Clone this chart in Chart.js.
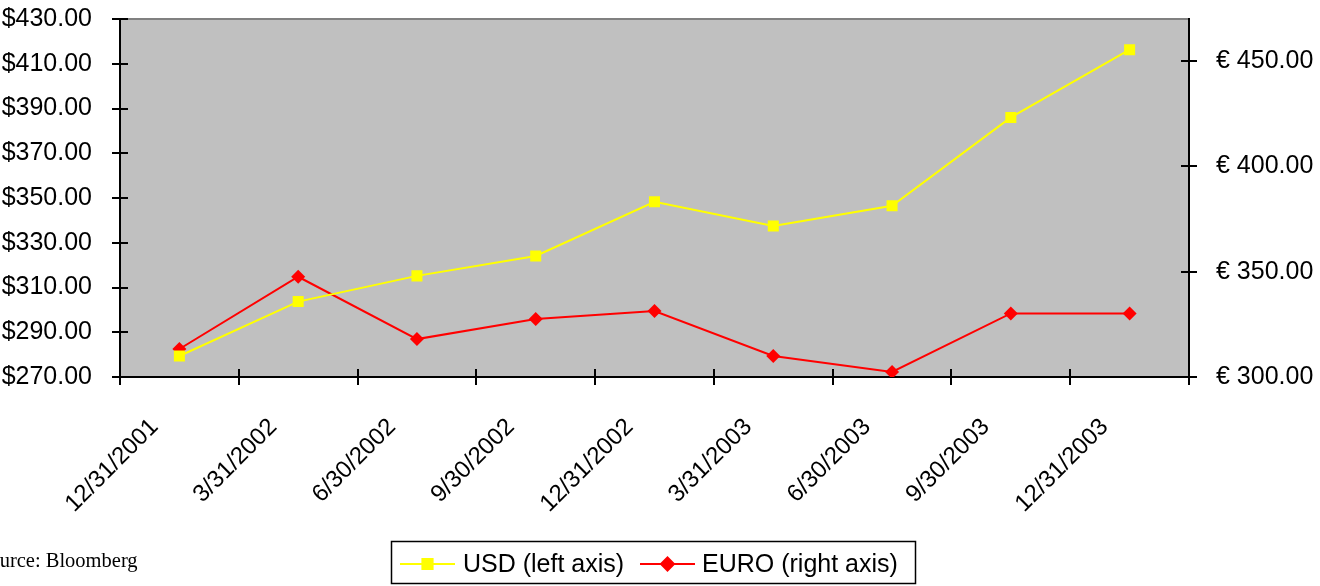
<!DOCTYPE html>
<html>
<head>
<meta charset="utf-8">
<script src="https://cdn.jsdelivr.net/npm/chart.js@4/dist/chart.umd.min.js"></script>
<style>
  html, body { margin: 0; padding: 0; background: #ffffff; }
  #wrap { width: 1320px; height: 586px; position: relative; }
</style>
</head>
<body>
<div id="wrap"><canvas id="gold" width="1320" height="586"></canvas></div>
<script>
// Quarter-end gold price, in US dollars and in euros
const quarterEnds = ['12/31/2001', '3/31/2002', '6/30/2002', '9/30/2002', '12/31/2002',
                     '3/31/2003', '6/30/2003', '9/30/2003', '12/31/2003'];
const usdPrices  = [279.4, 303.7, 315.2, 324.1, 348.3, 337.5, 346.5, 386.0, 416.3];
const euroPrices = [313.3, 347.6, 318.0, 327.5, 331.3, 310.0, 302.4, 330.2, 330.2];

// Axis ranges: [min, max, step]
const usdRange  = [270, 430, 20];
const euroRange = [300, 470, 50];

const seriesNames = ['USD (left axis)', 'EURO (right axis)'];
const sourceNote = 'Source: Bloomberg';

const SANS = '"Liberation Sans", Arial, sans-serif';
const SERIF = '"Liberation Serif", "Times New Roman", serif';
const FONT_PX = 25;

// Grey plot background, plot frame and tick marks crossing each axis
const plotFrame = {
  id: 'plotFrame',
  beforeDraw(chart) {
    const a = chart.chartArea, ctx = chart.ctx;
    ctx.save();
    ctx.fillStyle = '#c0c0c0';
    ctx.fillRect(a.left, a.top, a.right - a.left, a.bottom - a.top);
    ctx.restore();
  },
  beforeDatasetsDraw(chart) {
    const a = chart.chartArea, ctx = chart.ctx;
    const x = chart.scales.x, yl = chart.scales.y, yr = chart.scales.y1;
    const half = 8;
    ctx.save();
    ctx.lineCap = 'butt';
    // top edge of the plot
    ctx.strokeStyle = '#808080';
    ctx.lineWidth = 2;
    ctx.beginPath();
    ctx.moveTo(a.left, a.top); ctx.lineTo(a.right, a.top);
    ctx.stroke();
    // axis lines
    ctx.strokeStyle = '#000000';
    ctx.lineWidth = 2;
    ctx.beginPath();
    ctx.moveTo(a.left, a.top - 1); ctx.lineTo(a.left, a.bottom);
    ctx.moveTo(a.left, a.bottom); ctx.lineTo(a.right, a.bottom);
    ctx.moveTo(a.right, a.top - 1); ctx.lineTo(a.right, a.bottom);
    ctx.stroke();
    // tick marks
    ctx.beginPath();
    yl.ticks.forEach(t => {
      const py = Math.round(yl.getPixelForValue(t.value));
      ctx.moveTo(a.left - half, py); ctx.lineTo(a.left + half, py);
    });
    yr.ticks.forEach(t => {
      const py = Math.round(yr.getPixelForValue(t.value));
      ctx.moveTo(a.right - half, py); ctx.lineTo(a.right + half, py);
    });
    for (let i = 0; i <= quarterEnds.length; i++) {
      const px = Math.round(x.getPixelForValue(i - 0.5));
      ctx.moveTo(px, a.bottom - half); ctx.lineTo(px, a.bottom + half);
    }
    ctx.stroke();
    ctx.restore();
  }
};

// Boxed legend and source line under the chart
const footer = {
  id: 'footer',
  afterDraw(chart) {
    const ctx = chart.ctx;
    const ds = chart.data.datasets;
    ctx.save();
    // source note
    ctx.fillStyle = '#000000';
    ctx.font = '20.5px ' + SERIF;
    ctx.textBaseline = 'middle';
    ctx.textAlign = 'left';
    ctx.fillText(sourceNote, -22, 562);

    // legend frame
    ctx.strokeStyle = '#000000';
    ctx.lineWidth = 1.5;
    ctx.strokeRect(391.5, 541.5, 524, 42);

    const cy = 564;
    ctx.font = FONT_PX + 'px ' + SANS;
    const items = [
      { x0: 400, x1: 455, tx: 463, color: ds[0].borderColor, style: 'rect', r: 7.2 },
      { x0: 640, x1: 695, tx: 702, color: ds[1].borderColor, style: 'rectRot', r: 6.5 }
    ];
    items.forEach((it, i) => {
      ctx.strokeStyle = it.color;
      ctx.lineWidth = 2;
      ctx.beginPath();
      ctx.moveTo(it.x0, cy); ctx.lineTo(it.x1, cy);
      ctx.stroke();
      Chart.helpers.drawPoint(ctx, {
        pointStyle: it.style, radius: it.r, rotation: 0, borderWidth: 1
      }, (it.x0 + it.x1) / 2, cy);
      ctx.fillStyle = it.color;
      ctx.fill();
      ctx.fillStyle = '#000000';
      ctx.fillText(seriesNames[i], it.tx, cy + 1);
    });
    ctx.restore();
  }
};

const tickFont = { family: SANS, size: FONT_PX };

// fixed axis box sizes, without extra label padding above and below the plot
const fixWidth = w => s => { s.width = w; s.paddingTop = 0; s.paddingBottom = 0; };

new Chart(document.getElementById('gold'), {
  type: 'line',
  data: {
    labels: quarterEnds,
    datasets: [
      {
        label: seriesNames[0],
        data: usdPrices,
        yAxisID: 'y',
        borderColor: '#ffff00',
        backgroundColor: '#ffff00',
        borderWidth: 2,
        pointStyle: 'rect',
        pointRadius: 7.8,
        pointBorderWidth: 0,
        pointBackgroundColor: '#ffff00',
        tension: 0
      },
      {
        label: seriesNames[1],
        data: euroPrices,
        yAxisID: 'y1',
        borderColor: '#ff0000',
        backgroundColor: '#ff0000',
        borderWidth: 2,
        pointStyle: 'rectRot',
        pointRadius: 7,
        pointBorderWidth: 0,
        pointBackgroundColor: '#ff0000',
        tension: 0
      }
    ]
  },
  options: {
    responsive: false,
    animation: false,
    events: [],
    layout: { padding: { top: 19, left: 0, right: 0, bottom: 0 } },
    plugins: { legend: { display: false }, tooltip: { enabled: false } },
    scales: {
      x: {
        type: 'category',
        offset: true,
        grid: { display: false },
        border: { display: false },
        ticks: {
          color: '#000000',
          font: { family: SANS, size: 24 },
          minRotation: 45,
          maxRotation: 45,
          autoSkip: false,
          padding: 28,
          labelOffset: -25
        },
        afterFit(s) { s.height = 209; s.paddingLeft = 0; s.paddingRight = 0; }
      },
      y: {
        position: 'left',
        min: usdRange[0],
        max: usdRange[1],
        grid: { display: false },
        border: { display: false },
        ticks: {
          stepSize: usdRange[2],
          color: '#000000',
          font: tickFont,
          padding: 20,
          callback: v => '$' + Number(v).toFixed(2)
        },
        afterFit: fixWidth(120)
      },
      y1: {
        position: 'right',
        min: euroRange[0],
        max: euroRange[1],
        grid: { display: false },
        border: { display: false },
        ticks: {
          stepSize: euroRange[2],
          includeBounds: false,
          color: '#000000',
          font: tickFont,
          padding: 19,
          callback: v => '\u20ac ' + Number(v).toFixed(2)
        },
        afterFit: fixWidth(131)
      }
    }
  },
  plugins: [plotFrame, footer]
});
</script>
</body>
</html>
